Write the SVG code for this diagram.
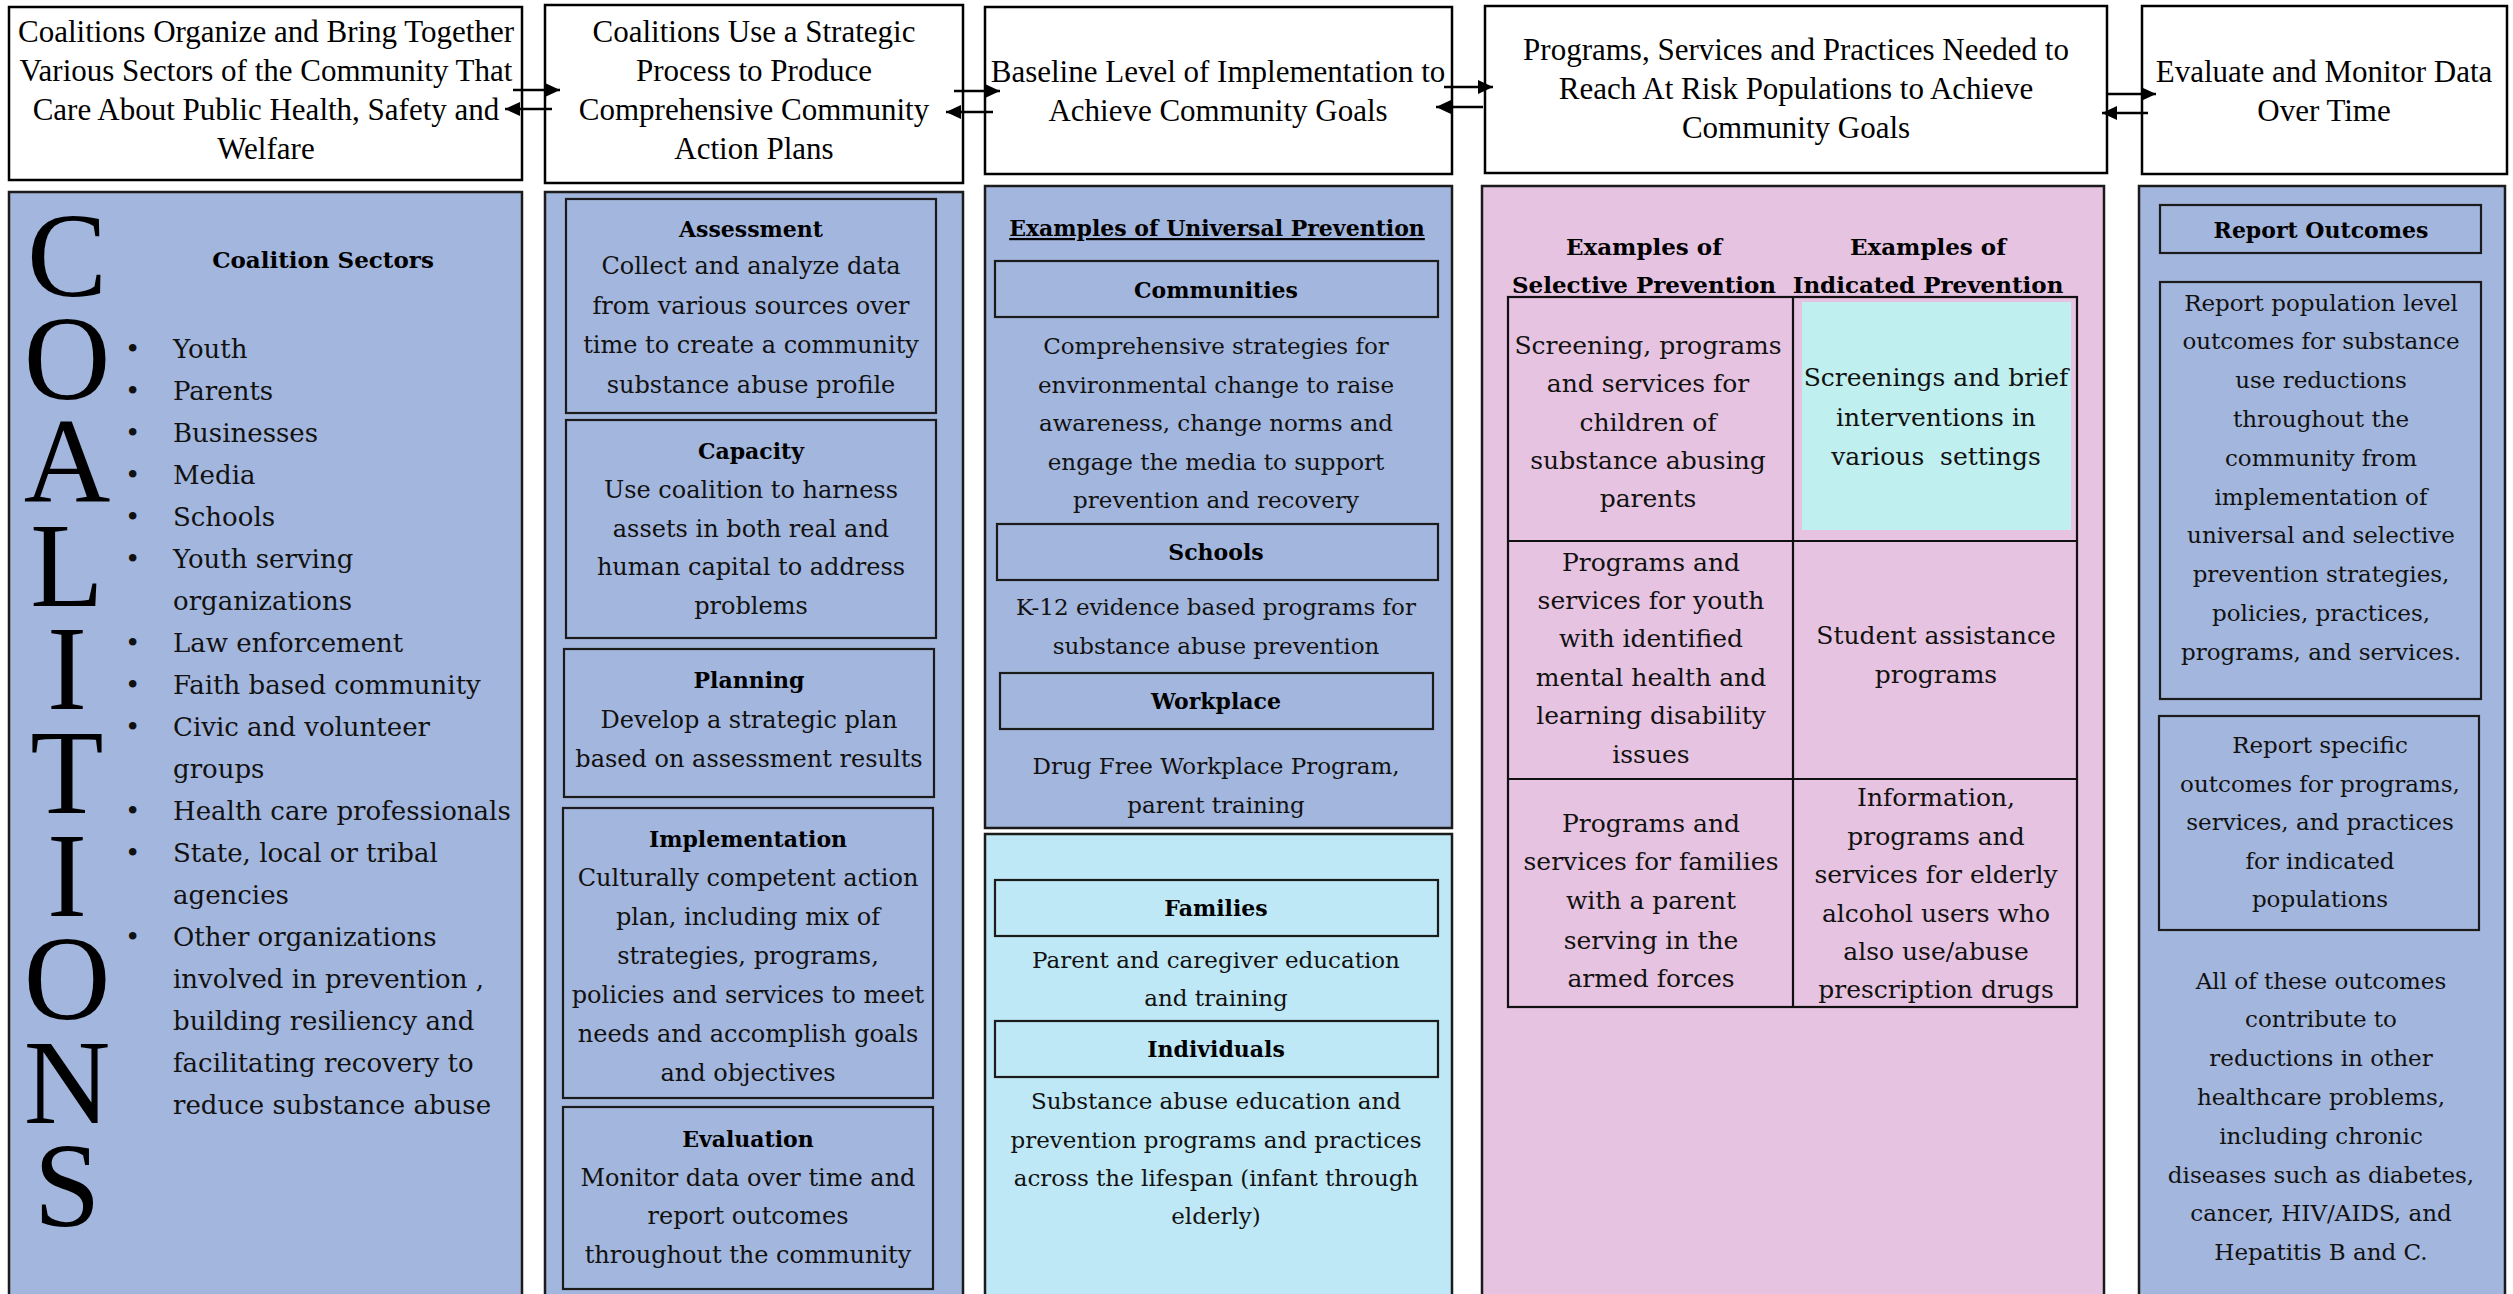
<svg xmlns="http://www.w3.org/2000/svg" width="2513" height="1294" viewBox="0 0 2513 1294">
<style>
.hdr{font-family:"Liberation Serif",serif;font-size:31px;text-anchor:middle;fill:#000}
.b{font-family:"DejaVu Serif",serif;font-size:24px;text-anchor:middle;fill:#111}
.b3{font-family:"DejaVu Serif",serif;font-size:23px;text-anchor:middle;fill:#111}
.bl{font-family:"DejaVu Serif",serif;font-size:26px;fill:#111}
.bt{font-family:"DejaVu Serif",serif;font-size:25px;text-anchor:middle;fill:#111}
.b5{font-family:"DejaVu Serif",serif;font-size:23px;text-anchor:middle;fill:#111}
.h{font-family:"DejaVu Serif",serif;font-size:22px;font-weight:bold;text-anchor:middle;fill:#000}
.big{font-family:"Liberation Serif",serif;font-size:120px;fill:#000;writing-mode:vertical-rl;text-orientation:upright;letter-spacing:-29.6px}
.top{fill:#fff;stroke:#000;stroke-width:2.5}
.pb{fill:#a3b6dd;stroke:#1b1b1b;stroke-width:2.5}
.plb{fill:#bfe8f6;stroke:#1b1b1b;stroke-width:2.5}
.pp{fill:#e6c3e0;stroke:#1b1b1b;stroke-width:2.5}
.ib{fill:none;stroke:#1b1b1b;stroke-width:2.2}
.tl{stroke:#111;stroke-width:2.2;fill:none}
.conn{stroke:#000;stroke-width:2.5;fill:none;marker-end:url(#ah)}
</style>
<defs>
<marker id="ah" markerUnits="userSpaceOnUse" markerWidth="16" markerHeight="14" refX="15" refY="7" orient="auto">
<path d="M0,0 L15,7 L0,14 z" fill="#000"/>
</marker>
</defs>
<rect x="0" y="0" width="2513" height="1294" fill="#fff"/>

<g id="top1">
<rect class="top" x="9" y="7" width="513" height="173"/>
<text class="hdr" x="266" y="42">Coalitions Organize and Bring Together</text>
<text class="hdr" x="266" y="81">Various Sectors of the Community That</text>
<text class="hdr" x="266" y="120">Care About Public Health, Safety and</text>
<text class="hdr" x="266" y="159">Welfare</text>
</g>
<g id="top2">
<rect class="top" x="545" y="5" width="418" height="178"/>
<text class="hdr" x="754" y="42">Coalitions Use a Strategic</text>
<text class="hdr" x="754" y="81">Process to Produce</text>
<text class="hdr" x="754" y="120">Comprehensive Community</text>
<text class="hdr" x="754" y="159">Action Plans</text>
</g>
<g id="top3">
<rect class="top" x="985" y="7" width="467" height="167"/>
<text class="hdr" x="1218" y="82">Baseline Level of Implementation to</text>
<text class="hdr" x="1218" y="121">Achieve Community Goals</text>
</g>
<g id="top4">
<rect class="top" x="1485" y="6" width="622" height="167"/>
<text class="hdr" x="1796" y="60">Programs, Services and Practices Needed to</text>
<text class="hdr" x="1796" y="99">Reach At Risk Populations to Achieve</text>
<text class="hdr" x="1796" y="138">Community Goals</text>
</g>
<g id="top5">
<rect class="top" x="2142" y="6" width="365" height="168"/>
<text class="hdr" x="2324" y="82">Evaluate and Monitor Data</text>
<text class="hdr" x="2324" y="121">Over Time</text>
</g>

<g id="connectors">
<line class="conn" x1="513" y1="90" x2="560" y2="90"/>
<line class="conn" x1="552" y1="109" x2="505" y2="109"/>
<line class="conn" x1="954" y1="91" x2="1000" y2="91"/>
<line class="conn" x1="993" y1="112" x2="946" y2="112"/>
<line class="conn" x1="1444" y1="87" x2="1493" y2="87"/>
<line class="conn" x1="1483" y1="107" x2="1436" y2="107"/>
<line class="conn" x1="2108" y1="94" x2="2156" y2="94"/>
<line class="conn" x1="2148" y1="113" x2="2102" y2="113"/>
</g>

<g id="coalitions">
<rect class="pb" x="9" y="192" width="513" height="1110"/>
<text class="big" x="67" y="188.5">COALITIONS</text>
<text class="h" x="323" y="268" style="font-size:23px">Coalition Sectors</text>
<g class="bl">
<text x="125" y="358">•</text><text x="173" y="358">Youth</text>
<text x="125" y="400">•</text><text x="173" y="400">Parents</text>
<text x="125" y="442">•</text><text x="173" y="442">Businesses</text>
<text x="125" y="484">•</text><text x="173" y="484">Media</text>
<text x="125" y="526">•</text><text x="173" y="526">Schools</text>
<text x="125" y="568">•</text><text x="173" y="568">Youth serving</text>
<text x="173" y="610">organizations</text>
<text x="125" y="652">•</text><text x="173" y="652">Law enforcement</text>
<text x="125" y="694">•</text><text x="173" y="694">Faith based community</text>
<text x="125" y="736">•</text><text x="173" y="736">Civic and volunteer</text>
<text x="173" y="778">groups</text>
<text x="125" y="820">•</text><text x="173" y="820">Health care professionals</text>
<text x="125" y="862">•</text><text x="173" y="862">State, local or tribal</text>
<text x="173" y="904">agencies</text>
<text x="125" y="946">•</text><text x="173" y="946">Other organizations</text>
<text x="173" y="988">involved in prevention ,</text>
<text x="173" y="1030">building resiliency and</text>
<text x="173" y="1072">facilitating recovery to</text>
<text x="173" y="1114">reduce substance abuse</text>
</g>
</g>

<g id="process">
<rect class="pb" x="545" y="192" width="418" height="1110"/>
<g id="assessment">
<rect class="ib" x="566" y="199" width="370" height="214"/>
<text class="h" x="751" y="237">Assessment</text>
<text class="b" x="751" y="274">Collect and analyze data</text>
<text class="b" x="751" y="314">from various sources over</text>
<text class="b" x="751" y="353">time to create a community</text>
<text class="b" x="751" y="393">substance abuse profile</text>
</g>
<g id="capacity">
<rect class="ib" x="566" y="420" width="370" height="218"/>
<text class="h" x="751" y="459">Capacity</text>
<text class="b" x="751" y="498">Use coalition to harness</text>
<text class="b" x="751" y="537">assets in both real and</text>
<text class="b" x="751" y="575">human capital to address</text>
<text class="b" x="751" y="614">problems</text>
</g>
<g id="planning">
<rect class="ib" x="564" y="649" width="370" height="148"/>
<text class="h" x="749" y="688">Planning</text>
<text class="b" x="749" y="728">Develop a strategic plan</text>
<text class="b" x="749" y="767">based on assessment results</text>
</g>
<g id="implementation">
<rect class="ib" x="563" y="808" width="370" height="290"/>
<text class="h" x="748" y="847">Implementation</text>
<text class="b" x="748" y="886">Culturally competent action</text>
<text class="b" x="748" y="925">plan, including mix of</text>
<text class="b" x="748" y="964">strategies, programs,</text>
<text class="b" x="748" y="1003">policies and services to meet</text>
<text class="b" x="748" y="1042">needs and accomplish goals</text>
<text class="b" x="748" y="1081">and objectives</text>
</g>
<g id="evaluation">
<rect class="ib" x="563" y="1107" width="370" height="182"/>
<text class="h" x="748" y="1147">Evaluation</text>
<text class="b" x="748" y="1186">Monitor data over time and</text>
<text class="b" x="748" y="1224">report outcomes</text>
<text class="b" x="748" y="1263">throughout the community</text>
</g>
</g>

<g id="universal">
<rect class="pb" x="985" y="186" width="467" height="642"/>
<text class="h" x="1217" y="236" text-decoration="underline">Examples of Universal Prevention</text>
<rect class="ib" x="995" y="261" width="443" height="56"/>
<text class="h" x="1216" y="298">Communities</text>
<text class="b3" x="1216" y="354">Comprehensive strategies for</text>
<text class="b3" x="1216" y="393">environmental change to raise</text>
<text class="b3" x="1216" y="431">awareness, change norms and</text>
<text class="b3" x="1216" y="470">engage the media to support</text>
<text class="b3" x="1216" y="508">prevention and recovery</text>
<rect class="ib" x="997" y="524" width="441" height="56"/>
<text class="h" x="1216" y="560">Schools</text>
<text class="b3" x="1216" y="615">K-12 evidence based programs for</text>
<text class="b3" x="1216" y="654">substance abuse prevention</text>
<rect class="ib" x="1000" y="673" width="433" height="56"/>
<text class="h" x="1216" y="709">Workplace</text>
<text class="b3" x="1216" y="774">Drug Free Workplace Program,</text>
<text class="b3" x="1216" y="813">parent training</text>
</g>

<g id="universal-families">
<rect class="plb" x="985" y="834" width="467" height="468"/>
<rect class="ib" x="995" y="880" width="443" height="56"/>
<text class="h" x="1216" y="916">Families</text>
<text class="b3" x="1216" y="968">Parent and caregiver education</text>
<text class="b3" x="1216" y="1006">and training</text>
<rect class="ib" x="995" y="1021" width="443" height="56"/>
<text class="h" x="1216" y="1057">Individuals</text>
<text class="b3" x="1216" y="1109">Substance abuse education and</text>
<text class="b3" x="1216" y="1148">prevention programs and practices</text>
<text class="b3" x="1216" y="1186">across the lifespan (infant through</text>
<text class="b3" x="1216" y="1224">elderly)</text>
</g>

<g id="selective-indicated">
<rect class="pp" x="1482" y="186" width="622" height="1116"/>
<text class="h" x="1644" y="255" style="font-size:23px">Examples of</text>
<text class="h" x="1644" y="293" style="font-size:23px">Selective Prevention</text>
<text class="h" x="1928" y="255" style="font-size:23px">Examples of</text>
<text class="h" x="1928" y="293" style="font-size:23px">Indicated Prevention</text>
<rect x="1802" y="302" width="269" height="228" fill="#bfefef"/>
<rect class="tl" x="1508" y="297" width="569" height="710"/>
<line class="tl" x1="1793" y1="297" x2="1793" y2="1007"/>
<line class="tl" x1="1508" y1="541" x2="2077" y2="541"/>
<line class="tl" x1="1508" y1="779" x2="2077" y2="779"/>
<text class="bt" x="1648" y="354">Screening, programs</text>
<text class="bt" x="1648" y="392">and services for</text>
<text class="bt" x="1648" y="431">children of</text>
<text class="bt" x="1648" y="469">substance abusing</text>
<text class="bt" x="1648" y="507">parents</text>
<text class="bt" x="1936" y="386">Screenings and brief</text>
<text class="bt" x="1936" y="426">interventions in</text>
<text class="bt" x="1936" y="465" xml:space="preserve">various  settings</text>
<text class="bt" x="1651" y="571">Programs and</text>
<text class="bt" x="1651" y="609">services for youth</text>
<text class="bt" x="1651" y="647">with identified</text>
<text class="bt" x="1651" y="686">mental health and</text>
<text class="bt" x="1651" y="724">learning disability</text>
<text class="bt" x="1651" y="763">issues</text>
<text class="bt" x="1936" y="644">Student assistance</text>
<text class="bt" x="1936" y="683">programs</text>
<text class="bt" x="1651" y="832">Programs and</text>
<text class="bt" x="1651" y="870">services for families</text>
<text class="bt" x="1651" y="909">with a parent</text>
<text class="bt" x="1651" y="949">serving in the</text>
<text class="bt" x="1651" y="987">armed forces</text>
<text class="bt" x="1936" y="806">Information,</text>
<text class="bt" x="1936" y="845">programs and</text>
<text class="bt" x="1936" y="883">services for elderly</text>
<text class="bt" x="1936" y="922">alcohol users who</text>
<text class="bt" x="1936" y="960">also use/abuse</text>
<text class="bt" x="1936" y="998">prescription drugs</text>
</g>

<g id="outcomes">
<rect class="pb" x="2139" y="186" width="366" height="1116"/>
<rect class="ib" x="2160" y="205" width="321" height="48"/>
<text class="h" x="2321" y="238">Report Outcomes</text>
<rect class="ib" x="2160" y="282" width="321" height="417"/>
<text class="b5" x="2321" y="311">Report population level</text>
<text class="b5" x="2321" y="349">outcomes for substance</text>
<text class="b5" x="2321" y="388">use reductions</text>
<text class="b5" x="2321" y="427">throughout the</text>
<text class="b5" x="2321" y="466">community from</text>
<text class="b5" x="2321" y="505">implementation of</text>
<text class="b5" x="2321" y="543">universal and selective</text>
<text class="b5" x="2321" y="582">prevention strategies,</text>
<text class="b5" x="2321" y="621">policies, practices,</text>
<text class="b5" x="2321" y="660">programs, and services.</text>
<rect class="ib" x="2159" y="716" width="320" height="214"/>
<text class="b5" x="2320" y="753">Report specific</text>
<text class="b5" x="2320" y="792">outcomes for programs,</text>
<text class="b5" x="2320" y="830">services, and practices</text>
<text class="b5" x="2320" y="869">for indicated</text>
<text class="b5" x="2320" y="907">populations</text>
<text class="b5" x="2321" y="989">All of these outcomes</text>
<text class="b5" x="2321" y="1027">contribute to</text>
<text class="b5" x="2321" y="1066">reductions in other</text>
<text class="b5" x="2321" y="1105">healthcare problems,</text>
<text class="b5" x="2321" y="1144">including chronic</text>
<text class="b5" x="2321" y="1183">diseases such as diabetes,</text>
<text class="b5" x="2321" y="1221">cancer, HIV/AIDS, and</text>
<text class="b5" x="2321" y="1260">Hepatitis B and C.</text>
</g>
</svg>
